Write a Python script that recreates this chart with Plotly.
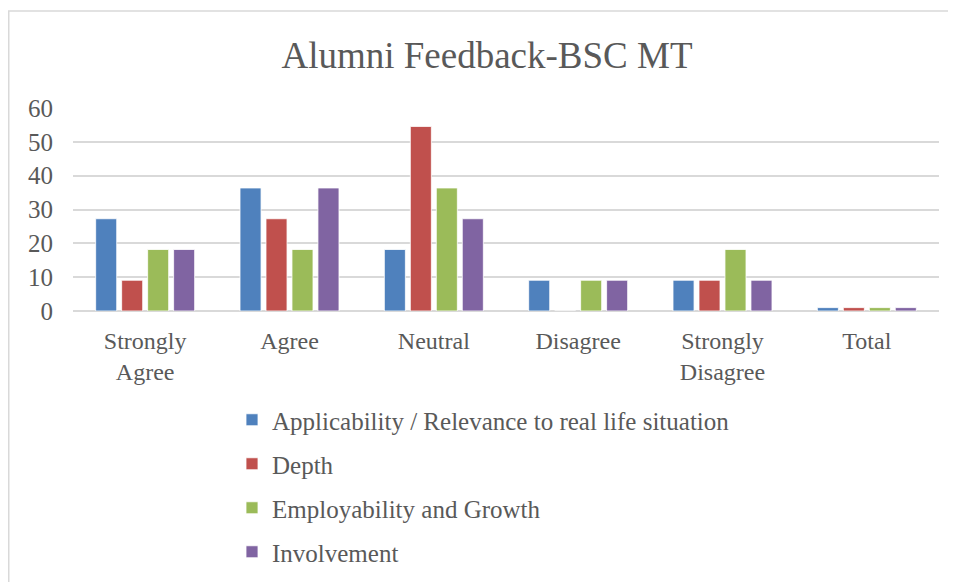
import plotly.graph_objects as go

categories = ["Strongly<br>Agree", "Agree", "Neutral", "Disagree", "Strongly<br>Disagree", "Total"]
series_names = ["Applicability / Relevance to real life situation", "Depth",
                "Employability and Growth", "Involvement"]
applicability = [27.27, 36.36, 18.18, 9.09, 9.09, 1]
depth = [9.09, 27.27, 54.55, 0, 9.09, 1]
employability = [18.18, 18.18, 36.36, 9.09, 18.18, 1]
involvement = [18.18, 36.36, 27.27, 9.09, 9.09, 1]
y_ticks = [0, 10, 20, 30, 40, 50, 60]

colors = ["#4F81BD", "#C0504D", "#9BBB59", "#8064A2"]
FONT = "Liberation Serif"
TXT = "#595959"

W, H = 948, 574
L, R, T, B = 65, 17, 100, 271
PW, PH = W - L - R, H - T - B

fig = go.Figure()
for i, (name, vals) in enumerate(zip(series_names, [applicability, depth, employability, involvement])):
    fig.add_trace(go.Bar(
        x=categories, y=vals, name=name, legendgroup=f"g{i}",
        marker=dict(color=colors[i], line=dict(color="white", width=0.8)),
    ))

fig.update_layout(
    width=W, height=H,
    paper_bgcolor="white", plot_bgcolor="white",
    margin=dict(l=L, r=R, t=T, b=B, autoexpand=False),
    barmode="group", bargap=0.28, bargroupgap=0.19,
    font=dict(family=FONT, color=TXT, size=25),
    title=dict(text="Alumni Feedback-BSC MT", x=479 / W, xanchor="center",
               y=1 - 47 / H, yanchor="middle",
               font=dict(family=FONT, size=37, color=TXT)),
    showlegend=True,
    legend=dict(x=(224 - L) / PW, xanchor="left", y=(PH - (389 - T)) / PH, yanchor="top",
                orientation="v", tracegroupgap=8.5,
                font=dict(family=FONT, size=25, color=TXT),
                itemwidth=30),
    xaxis=dict(showgrid=False, showline=False, ticks="", tickfont=dict(size=24),
               ticklabelstandoff=13),
    yaxis=dict(range=[0, 60], tickvals=y_ticks, showgrid=True, gridcolor="#d9d9d9",
               gridwidth=1.5, zeroline=True, zerolinecolor="#d9d9d9", zerolinewidth=1.5,
               ticklabelstandoff=19, tickfont=dict(size=25)),
    shapes=[dict(type="rect", xref="paper", yref="paper",
                 x0=(0.75 - L) / PW, x1=1.2, y0=-1.6, y1=(PH + T - 3) / PH,
                 line=dict(color="#d9d9d9", width=1.5), layer="below")],
)

fig.write_html("out.html")
